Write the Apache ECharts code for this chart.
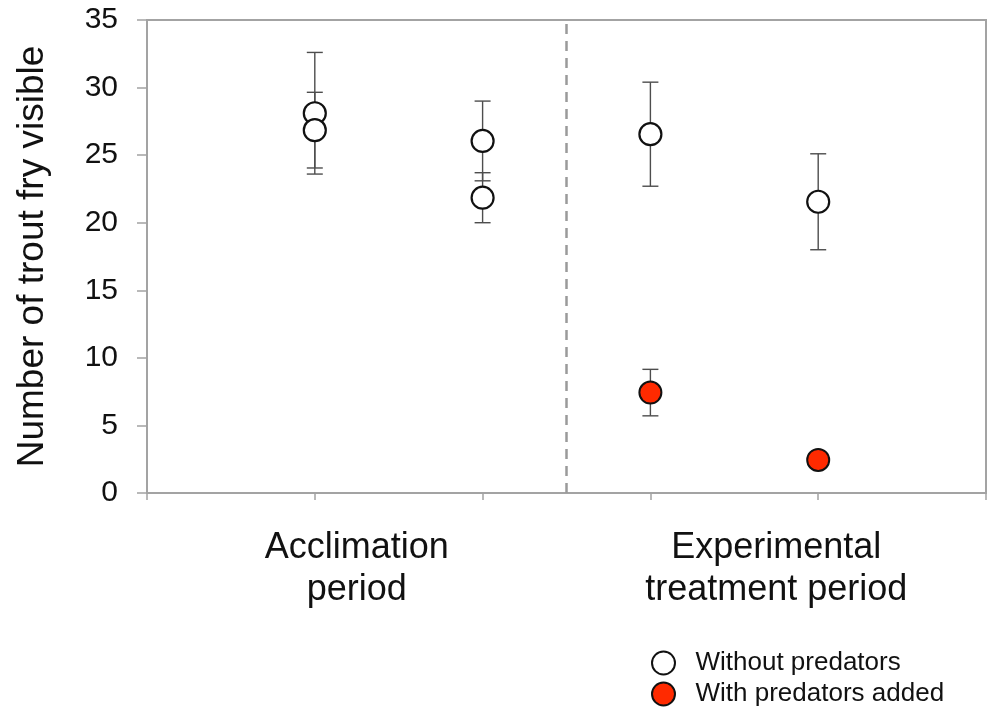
<!DOCTYPE html>
<html>
<head>
<meta charset="utf-8">
<script src="https://cdn.jsdelivr.net/npm/echarts@6/dist/echarts.min.js"></script>
<style>
  html, body { margin: 0; padding: 0; background: #ffffff; }
  #chart { width: 988px; height: 709px; }
</style>
</head>
<body>
<div id="chart"></div>
<script>
// Period labels shown under the x axis
const periods = ['Acclimation\nperiod', 'Experimental\ntreatment period'];

// Tanks without predators: sampling time, mean count, error (±)
const withoutX = [1, 1, 2, 2, 3, 4];
const withoutMean = [28.1, 26.85, 26.05, 21.85, 26.55, 21.55];
const withoutErr = [4.5, 2.8, 2.95, 1.85, 3.85, 3.55];

// Tanks with predators added (experimental period only)
const withX = [3, 4];
const withMean = [7.43, 2.45];
const withErr = [1.72, 0.45];

// Boundary between the two periods
const periodBoundary = 2.5;

const FONT = '"Liberation Sans", Arial, Helvetica, sans-serif';
const AXIS_GREY = '#a3a3a3';

const pts = (xs, ys) => xs.map((x, i) => [x, ys[i]]);
const errPts = (xs, ys, es) => xs.map((x, i) => [x, ys[i], es[i]]);

function renderErrorBar(params, api) {
  const x = api.value(0);
  const y = api.value(1);
  const e = api.value(2);
  const hi = api.coord([x, y + e]);
  const lo = api.coord([x, y - e]);
  const half = 8;
  const style = { stroke: '#4d4d4d', lineWidth: 1.4 };
  return {
    type: 'group',
    children: [
      { type: 'line', shape: { x1: hi[0], y1: hi[1], x2: lo[0], y2: lo[1] }, style },
      { type: 'line', shape: { x1: hi[0] - half, y1: hi[1], x2: hi[0] + half, y2: hi[1] }, style },
      { type: 'line', shape: { x1: lo[0] - half, y1: lo[1], x2: lo[0] + half, y2: lo[1] }, style }
    ]
  };
}

const legendBase = {
  orient: 'vertical', left: 646,
  itemWidth: 54, itemHeight: 23,
  textStyle: { fontSize: 26, color: '#111111', fontFamily: FONT }
};

const chart = echarts.init(document.getElementById('chart'));
chart.setOption({
  animation: false,
  backgroundColor: '#ffffff',
  textStyle: { fontFamily: FONT },
  grid: {
    left: 147, right: 2, top: 20, bottom: 216,
    show: true, borderColor: AXIS_GREY, borderWidth: 2, backgroundColor: 'transparent'
  },
  xAxis: [
    {
      type: 'value', min: 0, max: 5, interval: 1,
      axisLine: { show: true, lineStyle: { color: AXIS_GREY, width: 2 } },
      axisTick: { show: true, length: 7, lineStyle: { color: AXIS_GREY, width: 1.5 } },
      axisLabel: { show: false },
      splitLine: { show: false }
    },
    {
      type: 'category', position: 'bottom', data: periods, boundaryGap: true,
      axisLine: { show: false }, axisTick: { show: false }, splitLine: { show: false },
      axisLabel: {
        margin: 34, color: '#111111', fontSize: 36, lineHeight: 42,
        fontFamily: FONT, align: 'center'
      }
    }
  ],
  yAxis: {
    type: 'value', min: 0, max: 35, interval: 5,
    name: 'Number of trout fry visible',
    nameLocation: 'middle', nameGap: 96,
    nameTextStyle: { fontSize: 37, color: '#111111', fontFamily: FONT },
    axisLine: { show: true, lineStyle: { color: AXIS_GREY, width: 2 } },
    axisTick: { show: true, length: 10, lineStyle: { color: AXIS_GREY, width: 1.5 } },
    axisLabel: { margin: 29, fontSize: 30, color: '#111111', fontFamily: FONT },
    splitLine: { show: false }
  },
  legend: [
    Object.assign({}, legendBase, { top: 645, data: ['Without predators'] }),
    Object.assign({}, legendBase, { top: 676, data: ['With predators added'] })
  ],
  series: [
    {
      type: 'custom', name: 'err-without', renderItem: renderErrorBar,
      data: errPts(withoutX, withoutMean, withoutErr), z: 1, silent: true,
      encode: { x: 0, y: 1 }
    },
    {
      type: 'custom', name: 'err-with', renderItem: renderErrorBar,
      data: errPts(withX, withMean, withErr), z: 1, silent: true,
      encode: { x: 0, y: 1 }
    },
    {
      type: 'scatter', name: 'Without predators',
      data: pts(withoutX, withoutMean), symbol: 'circle', symbolSize: 22, z: 3,
      itemStyle: { color: '#ffffff', borderColor: '#111111', borderWidth: 2.2, opacity: 1 },
      markLine: {
        silent: true, symbol: 'none', label: { show: false },
        lineStyle: { color: '#9a9a9a', type: [10, 7], width: 2.5 },
        data: [{ xAxis: periodBoundary }]
      }
    },
    {
      type: 'scatter', name: 'With predators added',
      data: pts(withX, withMean), symbol: 'circle', symbolSize: 22, z: 3,
      itemStyle: { color: '#ff2a00', borderColor: '#111111', borderWidth: 2, opacity: 1 }
    }
  ]
});
</script>
</body>
</html>
